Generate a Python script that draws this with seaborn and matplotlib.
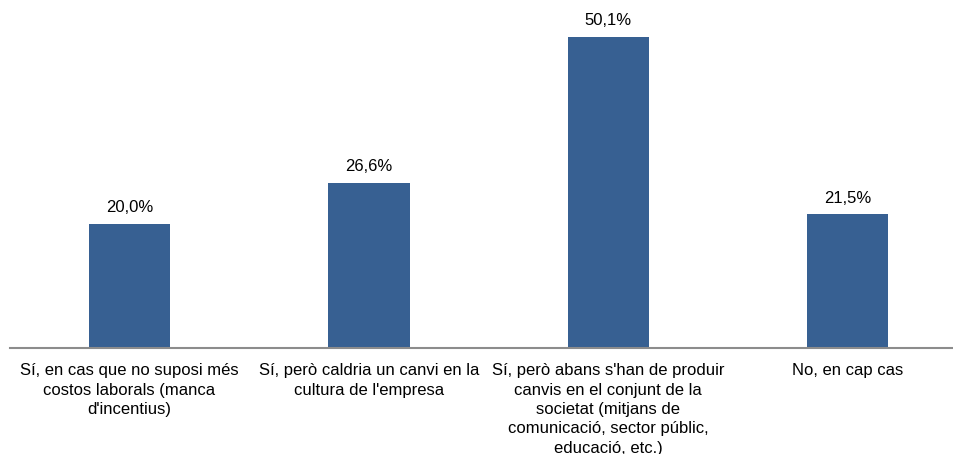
import matplotlib
matplotlib.use('Agg')
import matplotlib.pyplot as plt
import seaborn as sns
import pandas as pd

# Data
categories = [
    "Sí, en cas que no suposi més\ncostos laborals (manca\nd'incentius)",
    "Sí, però caldria un canvi en la\ncultura de l'empresa",
    "Sí, però abans s'han de produir\ncanvis en el conjunt de la\nsocietat (mitjans de\ncomunicació, sector públic,\neducació, etc.)",
    "No, en cap cas",
]
values = [20.0, 26.6, 50.1, 21.5]
value_labels = ["20,0%", "26,6%", "50,1%", "21,5%"]

sns.set_style('white')
plt.rcParams['font.family'] = ['Liberation Sans', 'DejaVu Sans']

df = pd.DataFrame({'cat': categories, 'val': values})

fig = plt.figure(figsize=(9.54, 4.54), dpi=100)
# x = -0.5 at px 9.8, 3.5 at px ~967 (clipped by figure edge)
ax = fig.add_axes([9.8 / 954, (454 - 348) / 454, 957.5 / 954, 348 / 454])

sns.barplot(data=df, x='cat', y='val', color='#376092', saturation=1,
            width=0.34, linewidth=0, ax=ax)

ax.set_xlim(-0.5, 3.5)
ax.set_ylim(0, 56.0)
ax.set_xlabel('')
ax.set_ylabel('')
ax.set_yticks([])
for side in ['top', 'left', 'right']:
    ax.spines[side].set_visible(False)
ax.spines['bottom'].set_color('#8c8c8c')
ax.spines['bottom'].set_linewidth(1.5)

ax.tick_params(axis='x', length=0, pad=11, labelsize=12, labelcolor='black')
for lbl in ax.get_xticklabels():
    lbl.set_linespacing(1.36)
    lbl.set_ha('center')

ax.bar_label(ax.containers[0], labels=value_labels, padding=6, fontsize=12,
             color='black')

fig.savefig('out.png', dpi=100)
plt.close(fig)
